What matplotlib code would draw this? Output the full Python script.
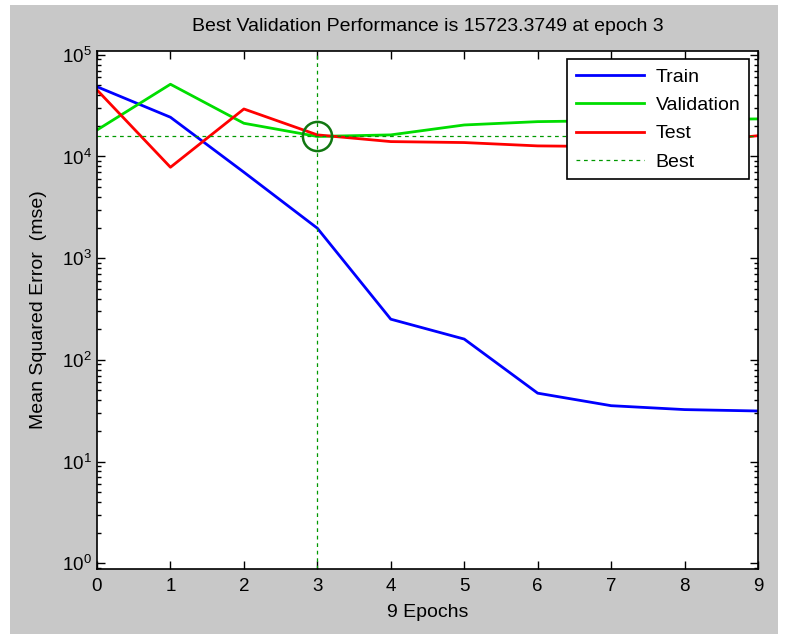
"""Training performance plot (train / validation / test mse per epoch)."""

import matplotlib
matplotlib.use("Agg")
import matplotlib.pyplot as plt
from matplotlib.patches import Rectangle

plt.rcParams["font.family"] = ["Liberation Sans", "DejaVu Sans"]

epochs = [0, 1, 2, 3, 4, 5, 6, 7, 8, 9]
train_mse = [48500, 24300, 7000, 1970, 251, 160, 47, 35.4, 32.4, 31.4]
val_mse = [18200, 51300, 21200, 15723.3749, 16300, 20400, 22000, 22500, 23000, 23400]
test_mse = [45100, 7830, 29300, 16300, 14000, 13700, 12700, 12500, 13500, 16000]
best_epoch = 3
best_perf = 15723.3749

fig = plt.figure(figsize=(7.85, 6.34), dpi=100, facecolor="white")
fig.patches.append(Rectangle((10 / 785, 0), 768 / 785, 629 / 634,
                             transform=fig.transFigure, facecolor="#c8c8c8",
                             edgecolor="none", zorder=-10))
ax = fig.add_axes([97 / 785, 64.7 / 634, 661 / 785, 518.6 / 634])

ax.semilogy(epochs, train_mse, color="#0000ff", lw=2, label="Train")
ax.semilogy(epochs, val_mse, color="#00dd00", lw=2, label="Validation")
ax.semilogy(epochs, test_mse, color="#ff0000", lw=2, label="Test")
ax.axhline(best_perf, color="#009900", lw=0.9, ls=(0, (3, 3)), label="Best")
ax.axvline(best_epoch, color="#009900", lw=0.9, ls=(0, (3, 3)))
ax.plot([best_epoch], [best_perf], "o", ms=21, mfc="none", mec="#117711", mew=1.8)

ax.set_xlim(0, 9)
ax.set_ylim(10 ** -0.06, 10 ** 5.04)
ax.set_xticks(epochs)
ax.tick_params(which="both", direction="in", top=True, right=True, labelsize=13.5)
ax.tick_params(which="major", length=6, width=1)
ax.tick_params(which="minor", length=3, width=1)
ax.tick_params(axis="x", pad=6)
for side in ax.spines.values():
    side.set_linewidth(1.2)

ax.set_xlabel("9 Epochs", fontsize=14, labelpad=7)
ax.set_ylabel("Mean Squared Error  (mse)", fontsize=14, labelpad=11)
ax.set_title(f"Best Validation Performance is {best_perf:.4f} at epoch {best_epoch}",
             fontsize=14, pad=14)

leg = ax.legend(loc="upper right", fontsize=14, fancybox=False, framealpha=1,
                edgecolor="black", borderaxespad=0.45, handlelength=3.5,
                labelspacing=0.55, borderpad=0.45, handletextpad=0.6)
leg.get_frame().set_linewidth(1.2)

fig.savefig("out.png", dpi=100, facecolor=fig.get_facecolor())
